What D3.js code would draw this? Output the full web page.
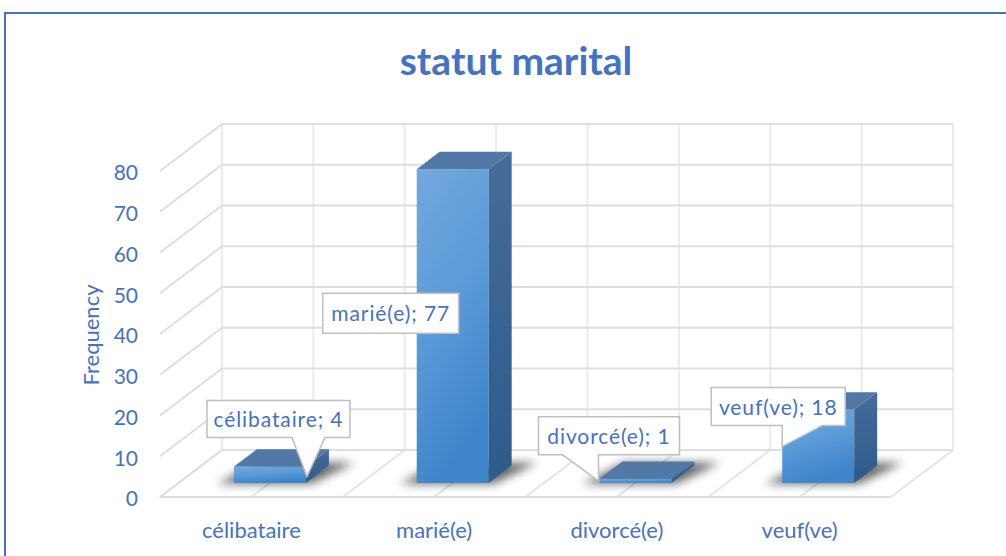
<!DOCTYPE html>
<html>
<head>
<meta charset="utf-8">
<script src="https://cdn.jsdelivr.net/npm/d3@7"></script>
<style>
  body { margin: 0; background: #fff; }
  svg { display: block; font-family: Lato, "Open Sans", sans-serif; }
</style>
</head>
<body>
<svg id="chart" width="1006" height="556"></svg>
<script>
const categories = ["célibataire", "marié(e)", "divorcé(e)", "veuf(ve)"];
const frequencies = [4, 77, 1, 18];
const yTicks = [0, 10, 20, 30, 40, 50, 60, 70, 80];
const title = "statut marital";
const yTitle = "Frequency";

const blue = "#4472C4";
const svg = d3.select("#chart");

// oblique 3D projection: depth 0 = front plane, 1 = back wall
const depthX = 62, depthY = -47;
const x = d3.scaleBand().domain(categories).range([160, 891]);
const y = d3.scaleLinear().domain([0, 80]).range([497, 171]);
const proj = (px, v, d) => [px + d * depthX, y(v) + d * depthY];

const defs = svg.append("defs");
const gFront = defs.append("linearGradient").attr("id", "gFront")
  .attr("x1", 0).attr("y1", 0).attr("x2", 0.3).attr("y2", 1);
gFront.append("stop").attr("offset", 0).attr("stop-color", "#74A8DE");
gFront.append("stop").attr("offset", 0.5).attr("stop-color", "#5B9BD8");
gFront.append("stop").attr("offset", 1).attr("stop-color", "#3E85CB");
const gSide = defs.append("linearGradient").attr("id", "gSide")
  .attr("x1", 0).attr("y1", 0).attr("x2", 0).attr("y2", 1);
gSide.append("stop").attr("offset", 0).attr("stop-color", "#466C9A");
gSide.append("stop").attr("offset", 1).attr("stop-color", "#2D5B8A");
defs.append("filter").attr("id", "blur")
  .attr("x", -0.5).attr("y", -0.5).attr("width", 2).attr("height", 2)
  .append("feGaussianBlur").attr("stdDeviation", 5);

// frame
svg.append("rect").attr("x", 5).attr("y", 13).attr("width", 1010).attr("height", 560)
  .attr("fill", "#fff").attr("stroke", blue).attr("stroke-width", 2);

svg.append("text").attr("x", 516).attr("y", 75).attr("text-anchor", "middle")
  .attr("font-size", 39).attr("font-weight", 700).attr("fill", blue).text(title);

const grid = svg.append("g").attr("fill", "none").attr("stroke-width", 2);
const [x0, x1] = x.range();
const step = x.bandwidth() / 2;
const vLines = d3.range(0, categories.length * 2 + 1).map(i => x0 + i * step);

// back wall verticals
grid.selectAll(".bv").data(vLines).join("line")
  .attr("stroke", "#EBEBEB")
  .attr("x1", d => proj(d, 0, 1)[0]).attr("x2", d => proj(d, 80, 1)[0])
  .attr("y1", d => proj(d, 0, 1)[1]).attr("y2", d => proj(d, 80, 1)[1]);
// floor diagonals
grid.selectAll(".fd").data(vLines).join("line")
  .attr("stroke", "#E4E4E4")
  .attr("x1", d => proj(d, 0, 0)[0]).attr("x2", d => proj(d, 0, 1)[0])
  .attr("y1", d => proj(d, 0, 0)[1]).attr("y2", d => proj(d, 0, 1)[1]);
// back wall horizontals
grid.selectAll(".bh").data(yTicks).join("line")
  .attr("stroke", "#DEDEDE")
  .attr("x1", proj(x0, 0, 1)[0]).attr("x2", proj(x1, 0, 1)[0])
  .attr("y1", d => proj(x0, d, 1)[1]).attr("y2", d => proj(x0, d, 1)[1]);
// side wall diagonals
grid.selectAll(".sd").data(yTicks).join("line")
  .attr("stroke", "#DEDEDE")
  .attr("x1", x0).attr("x2", proj(x0, 0, 1)[0])
  .attr("y1", d => y(d)).attr("y2", d => proj(x0, d, 1)[1]);
// floor front edge
grid.append("line").attr("stroke", "#DEDEDE")
  .attr("x1", x0).attr("x2", x1).attr("y1", y(0)).attr("y2", y(0));

// y axis labels
svg.append("g").selectAll("text").data(yTicks).join("text")
  .attr("x", 138).attr("y", d => y(d) + 2).attr("dy", "0.35em")
  .attr("text-anchor", "end").attr("font-size", 21).attr("fill", blue)
  .text(d => d);
svg.append("text").attr("transform", "translate(99,335) rotate(-90)")
  .attr("text-anchor", "middle").attr("font-size", 22).attr("fill", blue).text(yTitle);

// x axis labels
svg.append("g").selectAll("text").data(categories).join("text")
  .attr("x", d => x(d) + x.bandwidth() / 2).attr("y", 538)
  .attr("text-anchor", "middle").attr("font-size", 22).attr("fill", blue)
  .text(d => d);

// bars
const barW = 72, dA = 0.3, dB = 0.67;
const pts = arr => arr.map(p => p.join(",")).join(" ");
const bars = svg.append("g").selectAll("g").data(categories.map((c, i) => ({ c, v: frequencies[i] }))).join("g");
bars.each(function (d) {
  const g = d3.select(this);
  const L = x(d.c) + x.bandwidth() / 2 - barW / 2, R = L + barW;
  g.append("polygon").attr("filter", "url(#blur)").attr("fill", "#000").attr("opacity", 0.6)
    .attr("points", pts([proj(L - 16, 0, dA - 0.02), proj(R + 6, 0, dA - 0.02), proj(R + 22, 0, dB + 0.06), proj(L - 2, 0, dB + 0.06)]));
  g.append("polygon").attr("fill", "url(#gFront)")
    .attr("points", pts([proj(L, 0, dA), proj(R, 0, dA), proj(R, d.v, dA), proj(L, d.v, dA)]));
  g.append("polygon").attr("fill", "url(#gSide)")
    .attr("points", pts([proj(R, 0, dA), proj(R, 0, dB), proj(R, d.v, dB), proj(R, d.v, dA)]));
  g.append("polygon").attr("fill", "#5279A6")
    .attr("points", pts([proj(L, d.v, dA), proj(R, d.v, dA), proj(R, d.v, dB), proj(L, d.v, dB)]));
});

// data label callouts, placed relative to the bar's front-top-left corner (ax, ay)
const callouts = {
  "célibataire": { bx: -27, by: -66, w: 143, h: 37,
    shape: (ax, ay, b) => `H${ax + 91}L${ax + 73},${ay + 10}L${ax + 58},${b}` },
  "marié(e)": { bx: -94, by: 124, w: 136, h: 40, shape: null },
  "divorcé(e)": { bx: -61, by: -62, w: 141, h: 38,
    shape: (ax, ay, b) => `H${ax - 1}V${ay + 2}L${ax - 37},${b}` },
  "veuf(ve)": { bx: -71, by: -22, w: 134, h: 38,
    shape: (ax, ay, b) => `H${ax + 40}L${ax},${ay + 37}V${b}` }
};
const lab = svg.append("g");
categories.forEach((c, i) => {
  const v = frequencies[i];
  const [ax, ay] = proj(x(c) + x.bandwidth() / 2 - barW / 2, v, dA);
  const o = callouts[c];
  const bx = ax + o.bx, by = ay + o.by, b = by + o.h;
  const path = `M${bx},${by}H${bx + o.w}V${b}` + (o.shape ? o.shape(ax, ay, b) : "") + `H${bx}Z`;
  lab.append("path").attr("d", path).attr("fill", "#fff").attr("stroke", "#BFBFBF").attr("stroke-width", 1.5);
  lab.append("text").attr("x", bx + o.w / 2).attr("y", by + o.h / 2 + 1).attr("dy", "0.35em")
    .attr("text-anchor", "middle").attr("font-size", 21).attr("letter-spacing", 0.9)
    .attr("fill", blue).text(`${c}; ${v}`);
});
</script>
</body>
</html>
